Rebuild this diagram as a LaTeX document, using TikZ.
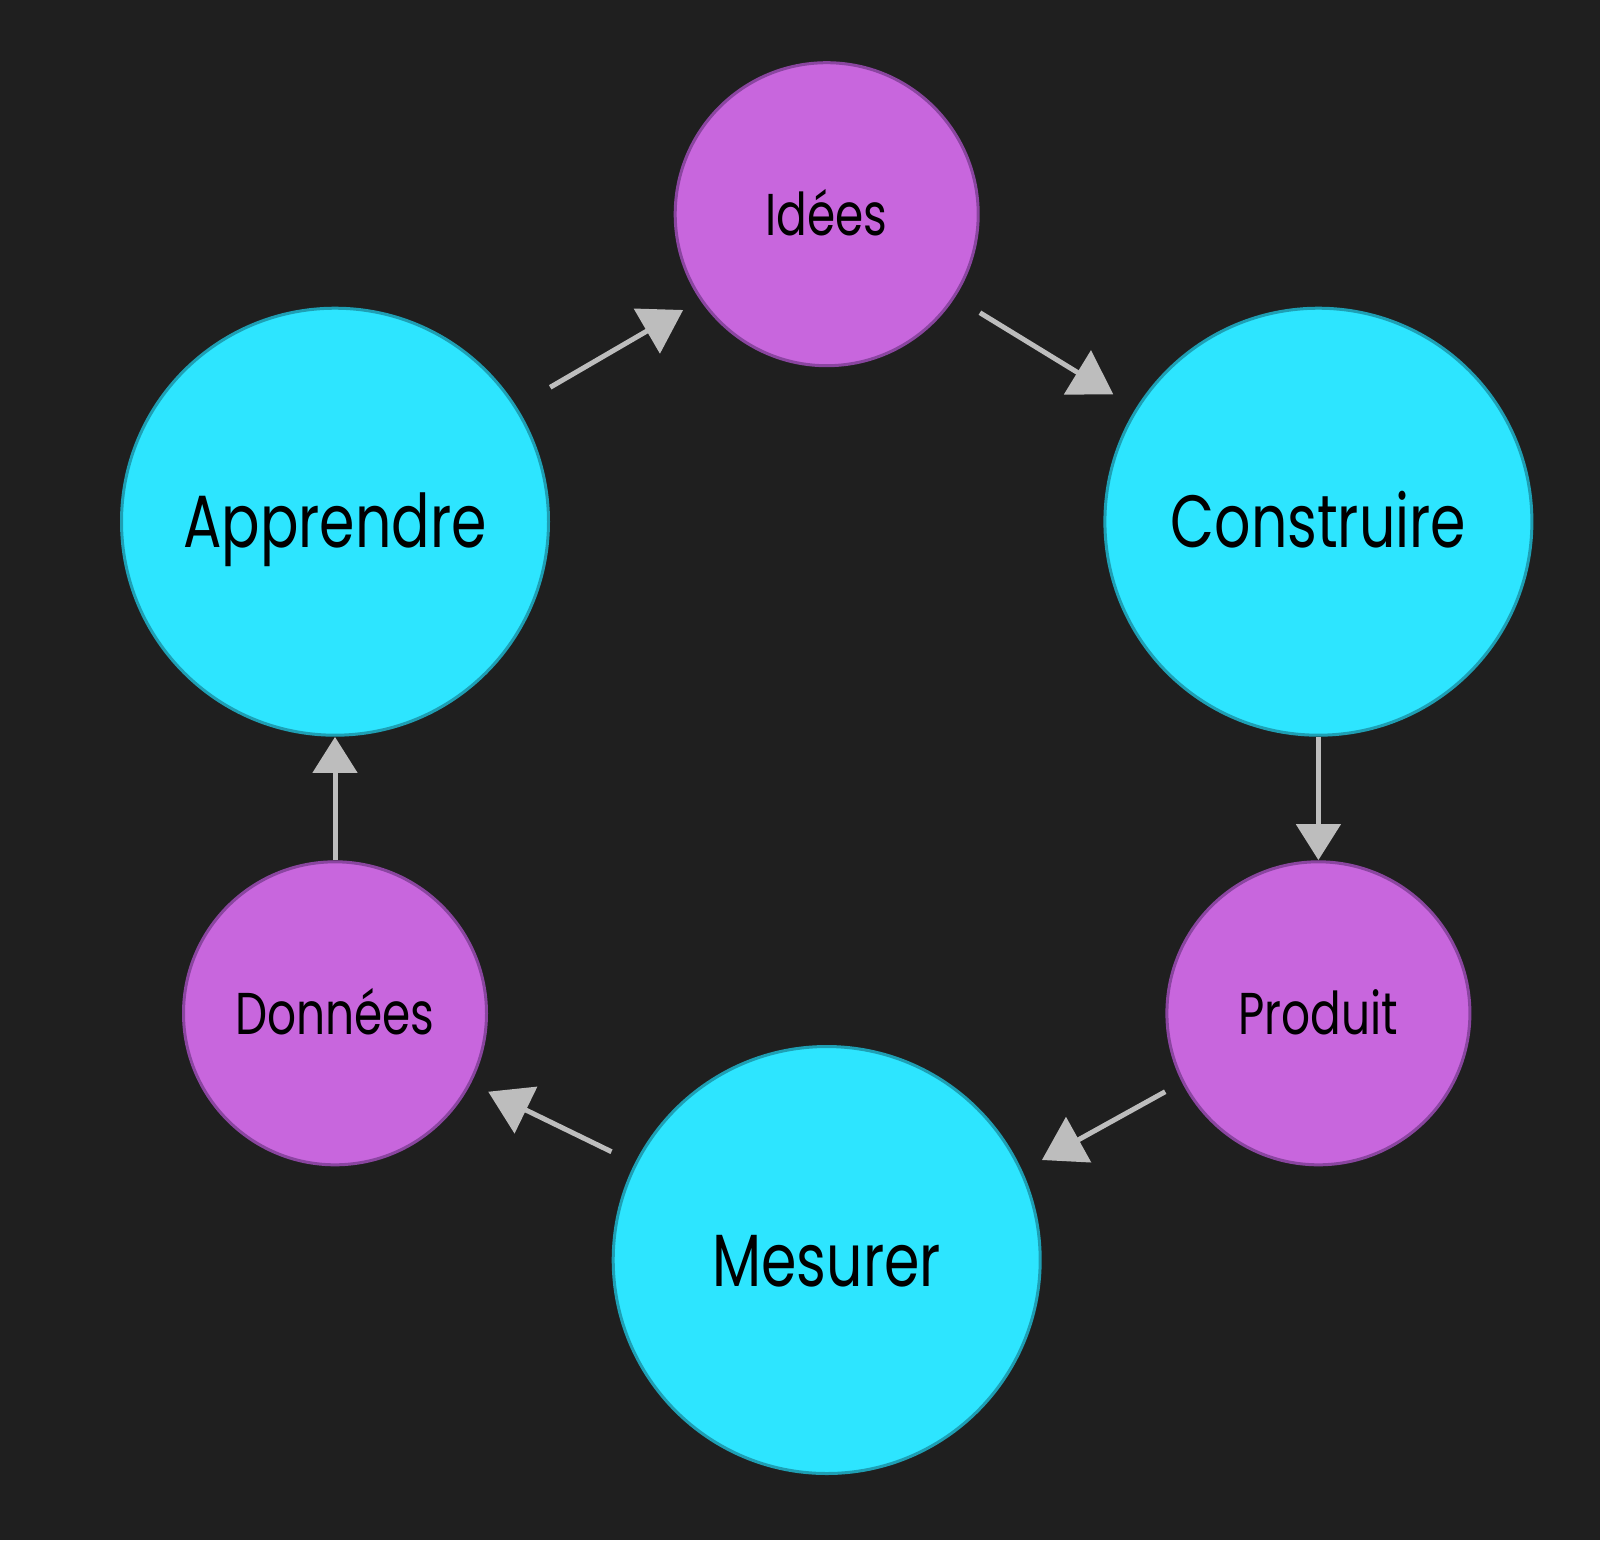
\documentclass[tikz,border=0pt]{standalone}
\usepackage{fontspec}
\setmainfont[FakeStretch=0.77]{Poppins}
\usetikzlibrary{arrows.meta}
\definecolor{bg}{HTML}{1F1F1F}
\definecolor{cyanfill}{HTML}{2DE5FF}
\definecolor{cyanline}{HTML}{1E9FB4}
\definecolor{magfill}{HTML}{C866DD}
\definecolor{magline}{HTML}{8A45A0}
\definecolor{arrowgray}{HTML}{BDBDBD}
\begin{document}
\begin{tikzpicture}[x=1pt,y=-1pt,
  bignode/.style={rectangle, minimum size=430pt, inner sep=0pt, text=black,
    path picture={\fill[cyanfill,draw=cyanline,line width=3pt] (path picture bounding box.center) circle[radius=213.5pt];},
    font=\fontsize{74}{80}\selectfont, text height=52pt, text depth=0pt},
  smallnode/.style={rectangle, minimum size=306pt, inner sep=0pt, text=black,
    path picture={\fill[magfill,draw=magline,line width=3pt] (path picture bounding box.center) circle[radius=151.5pt];},
    font=\fontsize{59}{64}\selectfont, text height=42pt, text depth=0pt},
  flow/.style={draw=arrowgray, line width=5pt, -{Triangle[length=42pt,width=51pt]}},
  vflow/.style={draw=arrowgray, line width=5pt, -{Triangle[length=36pt,width=44pt]}}
]
\fill[bg] (0,0) rectangle (1600,1540);
\useasboundingbox (0,0) rectangle (1600,1540);
\node[smallnode] (idees) at (826.7,214.2) {Idées};
\node[bignode] (construire) at (1318.4,521.7) {Construire};
\node[smallnode] (produit) at (1318.4,1013.3) {Produit};
\node[bignode] (mesurer) at (826.7,1260) {Mesurer};
\node[smallnode] (donnees) at (335,1013.3) {Données};
\node[bignode] (apprendre) at (335,521.7) {Apprendre};
\draw[flow] ([yshift=134.4pt]apprendre.east) -- ([xshift=9.6pt,yshift=-95.8pt]idees.west);
\draw[flow] ([yshift=-98.5pt]idees.east) -- ([xshift=10pt,yshift=127.4pt]construire.west);
\draw[vflow] (construire) -- (produit);
\draw[flow] ([yshift=-78.4pt]produit.west) -- ([yshift=100pt]mesurer.east);
\draw[flow] ([yshift=108.3pt]mesurer.west) -- ([yshift=-78.4pt]donnees.east);
\draw[vflow] (donnees) -- (apprendre);
\end{tikzpicture}
\end{document}
